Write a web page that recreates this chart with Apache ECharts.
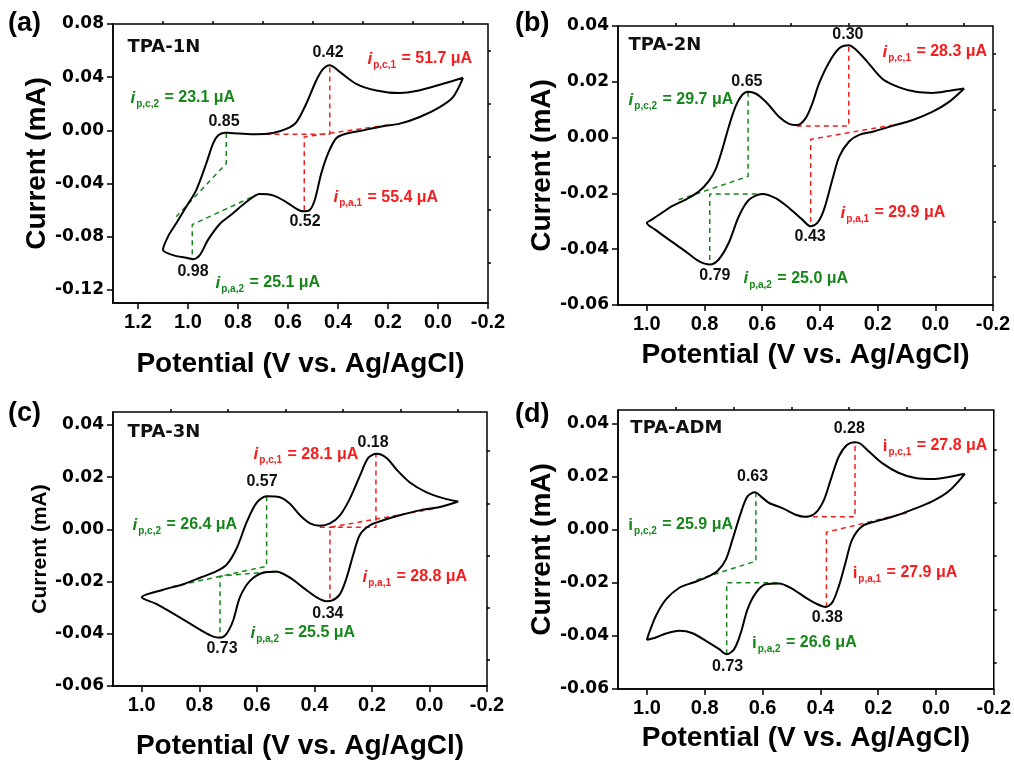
<!DOCTYPE html>
<html>
<head>
<meta charset="utf-8">
<script src="https://cdn.jsdelivr.net/npm/echarts@6/dist/echarts.min.js"></script>
<style>
  html, body { margin: 0; background: #fff; }
  #main { width: 1014px; height: 761px; }
</style>
</head>
<body>
<div id="main"></div>
<script>
// CV loops: [potential V, current mA]
const cv1N = [
  [-0.10, 0.0395], [-0.02, 0.035], [0.087, 0.0295], [0.153, 0.028], [0.247, 0.030],
  [0.327, 0.035], [0.393, 0.044], [0.433, 0.049], [0.46, 0.046], [0.487, 0.0375],
  [0.527, 0.020], [0.567, 0.006], [0.607, 0.001], [0.66, -0.002], [0.727, -0.003],
  [0.793, -0.0025], [0.833, -0.002], [0.853, -0.0018], [0.88, -0.004], [0.90, -0.010],
  [0.927, -0.025], [0.967, -0.045], [1.007, -0.0575], [1.047, -0.070], [1.08, -0.080],
  [1.10, -0.090], [1.06, -0.094], [1.007, -0.096], [0.98, -0.097], [0.953, -0.094],
  [0.92, -0.0825], [0.873, -0.0705], [0.82, -0.0625], [0.767, -0.054], [0.713, -0.048],
  [0.66, -0.049], [0.607, -0.054], [0.567, -0.059], [0.54, -0.061], [0.513, -0.060],
  [0.493, -0.0525], [0.467, -0.0325], [0.44, -0.0175], [0.407, -0.006], [0.367, -0.0025],
  [0.313, -0.0005], [0.22, 0.003], [0.153, 0.005], [0.073, 0.010], [-0.007, 0.0175],
  [-0.06, 0.025], [-0.10, 0.0395]
];
const cv2N = [
  [-0.10, 0.0176], [-0.049, 0.0168], [0.009, 0.016], [0.067, 0.0164], [0.125, 0.018],
  [0.183, 0.021], [0.24, 0.0277], [0.275, 0.0315], [0.30, 0.0331], [0.333, 0.032],
  [0.368, 0.027], [0.403, 0.0194], [0.426, 0.0123], [0.45, 0.0069], [0.478, 0.0045],
  [0.507, 0.0049], [0.542, 0.0075], [0.577, 0.0117], [0.60, 0.014], [0.623, 0.0158],
  [0.649, 0.0164], [0.67, 0.0152], [0.693, 0.011], [0.716, 0.0039], [0.739, -0.0044],
  [0.762, -0.0115], [0.786, -0.0157], [0.82, -0.0193], [0.867, -0.0223], [0.913, -0.0246],
  [0.948, -0.027], [0.983, -0.0294], [1.0, -0.0306], [0.971, -0.033], [0.925, -0.0365],
  [0.867, -0.0407], [0.82, -0.0443], [0.782, -0.0455], [0.751, -0.0437], [0.716, -0.0377],
  [0.681, -0.0282], [0.646, -0.0223], [0.60, -0.0202], [0.554, -0.0217], [0.507, -0.0252],
  [0.461, -0.0294], [0.432, -0.0318], [0.409, -0.0306], [0.386, -0.0258], [0.357, -0.0151],
  [0.333, -0.0068], [0.299, -0.0014], [0.264, 0.001], [0.217, 0.0021], [0.148, 0.0042],
  [0.078, 0.0063], [0.009, 0.0093], [-0.049, 0.0129], [-0.10, 0.0176]
];
const cv3N = [
  [-0.10, 0.0107], [-0.047, 0.012], [0.010, 0.0142], [0.068, 0.018], [0.115, 0.023],
  [0.149, 0.0274], [0.184, 0.029], [0.213, 0.0274], [0.242, 0.0205], [0.277, 0.0117],
  [0.311, 0.0054], [0.346, 0.0023], [0.381, 0.0014], [0.415, 0.0023], [0.45, 0.0054],
  [0.485, 0.0098], [0.52, 0.0123], [0.566, 0.0127], [0.601, 0.0102], [0.635, 0.0029],
  [0.67, -0.0072], [0.705, -0.0135], [0.74, -0.016], [0.797, -0.0185], [0.855, -0.021],
  [0.925, -0.0231], [1.0, -0.026], [0.948, -0.0286], [0.89, -0.0323], [0.832, -0.0361],
  [0.786, -0.0392], [0.751, -0.0411], [0.728, -0.0415], [0.705, -0.0399], [0.682, -0.0348],
  [0.659, -0.026], [0.624, -0.0197], [0.578, -0.0166], [0.531, -0.0162], [0.485, -0.0185],
  [0.439, -0.0223], [0.392, -0.026], [0.358, -0.0275], [0.34, -0.0273], [0.311, -0.0248],
  [0.288, -0.0185], [0.265, -0.0097], [0.242, -0.0021], [0.207, 0.0016], [0.161, 0.0035],
  [0.103, 0.0054], [0.034, 0.0073], [-0.036, 0.0086], [-0.10, 0.0107]
];
const cvADM = [
  [-0.10, 0.021], [-0.044, 0.0198], [0.013, 0.019], [0.071, 0.0194], [0.128, 0.0213],
  [0.186, 0.025], [0.232, 0.0294], [0.261, 0.0323], [0.28, 0.0329], [0.307, 0.0319],
  [0.336, 0.0275], [0.364, 0.0188], [0.387, 0.0113], [0.416, 0.0063], [0.451, 0.0048],
  [0.485, 0.0056], [0.531, 0.0081], [0.577, 0.010], [0.606, 0.0125], [0.626, 0.014],
  [0.652, 0.0125], [0.675, 0.0063], [0.704, -0.0038], [0.727, -0.0113], [0.756, -0.0156],
  [0.796, -0.0181], [0.842, -0.020], [0.888, -0.0219], [0.934, -0.0263], [0.969, -0.0325],
  [0.992, -0.0388], [1.0, -0.0415], [0.969, -0.0406], [0.934, -0.0391], [0.888, -0.0381],
  [0.842, -0.039], [0.796, -0.0419], [0.75, -0.045], [0.724, -0.0469], [0.698, -0.045],
  [0.675, -0.0388], [0.652, -0.030], [0.623, -0.0238], [0.589, -0.0206], [0.543, -0.0203],
  [0.497, -0.0223], [0.451, -0.0256], [0.41, -0.0281], [0.382, -0.0291], [0.359, -0.0275],
  [0.336, -0.0213], [0.313, -0.0125], [0.29, -0.0038], [0.255, 0.0013], [0.209, 0.0031],
  [0.151, 0.0048], [0.082, 0.0075], [0.013, 0.0106], [-0.044, 0.0144], [-0.10, 0.021]
];

// baseline / peak-height constructions (dashed)
const red1N = [[[0.69, -0.003], [0.433, -0.003], [0.433, 0.049]], [[0.20, 0.004], [0.535, -0.005], [0.535, -0.061]]];
const green1N = [[[0.847, -0.002], [0.847, -0.025], [1.047, -0.065]], [[0.713, -0.0475], [0.983, -0.071], [0.983, -0.097]]];
const red2N = [[[0.48, 0.0042], [0.30, 0.0042], [0.30, 0.0331]], [[0.113, 0.0051], [0.432, -0.0006], [0.432, -0.0318]]];
const green2N = [[[0.649, 0.0164], [0.649, -0.0139], [0.89, -0.0223]], [[0.588, -0.0202], [0.782, -0.0202], [0.782, -0.0455]]];
const red3N = [[[0.381, 0.0008], [0.186, 0.0008], [0.186, 0.029]], [[-0.013, 0.0079], [0.346, 0.0008], [0.346, -0.0275]]];
const green3N = [[[0.566, 0.0127], [0.566, -0.0141], [0.90, -0.0221]], [[0.531, -0.016], [0.728, -0.0179], [0.728, -0.0415]]];
const redADM = [[[0.457, 0.0048], [0.28, 0.0048], [0.28, 0.0329]], [[0.10, 0.0063], [0.379, -0.001], [0.379, -0.0291]]];
const greenADM = [[[0.623, 0.014], [0.623, -0.0119], [0.842, -0.0194]], [[0.549, -0.020], [0.724, -0.020], [0.724, -0.0469]]];

// peak potentials: [x, y, label]
const peaks1N = [[0.44, 0.0582, '0.42'], [0.856, 0.0062, '0.85'], [0.532, -0.069, '0.52'], [0.98, -0.1067, '0.98']];
const peaks2N = [[0.303, 0.0368, '0.30'], [0.653, 0.0199, '0.65'], [0.434, -0.0356, '0.43'], [0.764, -0.0496, '0.79']];
const peaks3N = [[0.196, 0.0333, '0.18'], [0.582, 0.0183, '0.57'], [0.353, -0.0321, '0.34'], [0.721, -0.0457, '0.73']];
const peaksADM = [[0.30, 0.0379, '0.28'], [0.6345, 0.0198, '0.63'], [0.376, -0.0333, '0.38'], [0.7207, -0.0517, '0.73']];

// peak currents: [x, y, subscript, µA, colour]
const notes1N = [[0.284, 0.0536, 'p,c,1', '51.7', 'r'], [1.232, 0.0243, 'p,c,2', '23.1', 'g'], [0.42, -0.0503, 'p,a,1', '55.4', 'r'], [0.892, -0.115, 'p,a,2', '25.1', 'g']];
const notes2N = [[0.185, 0.0307, 'p,c,1', '28.3', 'r'], [1.065, 0.0135, 'p,c,2', '29.7', 'g'], [0.330, -0.027, 'p,a,1', '29.9', 'r'], [0.667, -0.0506, 'p,a,2', '25.0', 'g']];
const notes3N = [[0.613, 0.0288, 'p,c,1', '28.1', 'r'], [1.034, 0.0017, 'p,c,2', '26.4', 'g'], [0.2345, -0.0182, 'p,a,1', '28.8', 'r'], [0.624, -0.0397, 'p,a,2', '25.5', 'g']];
const notesADM = [[0.186, 0.0315, 'p,c,1', '27.8', 'r'], [1.066, 0.0017, 'p,c,2', '25.9', 'g'], [0.29, -0.0163, 'p,a,1', '27.9', 'r'], [0.638, -0.0427, 'p,a,2', '26.6', 'g']];

// tick values
const xTicks1N = [1.2, 1.0, 0.8, 0.6, 0.4, 0.2, 0.0, -0.2];
const xMinor1N = [1.1, 0.9, 0.7, 0.5, 0.3, 0.1, -0.1];
const xTicks = [1.0, 0.8, 0.6, 0.4, 0.2, 0.0, -0.2];
const xMinor = [0.9, 0.7, 0.5, 0.3, 0.1, -0.1];
const yTicks1N = [-0.12, -0.08, -0.04, 0, 0.04, 0.08];
const yMinor1N = [-0.10, -0.06, -0.02, 0.02, 0.06];
const yTicks = [-0.06, -0.04, -0.02, 0, 0.02, 0.04];
const yMinor = [-0.05, -0.03, -0.01, 0.01, 0.03];

const FONT = '"Liberation Sans", Arial, sans-serif';
const WIDE = '"DejaVu Sans", Verdana, sans-serif';
const RED = '#f41e1e';
const GREEN = '#16861a';

const panels = [
  { tag: '(a)', title: 'TPA-1N', titleAt: [1.244, 0.0627], curve: cv1N, red: red1N, green: green1N, peaks: peaks1N, notes: notes1N,
    box: { left: 113, top: 24, width: 375, height: 279 }, x: [-0.2, 1.3], y: [-0.13, 0.08],
    xt: xTicks1N, xm: xMinor1N, yt: yTicks1N, ym: yMinor1N, italic: true, yNameSize: 28, xGap: 47, tagAt: [8, 10] },
  { tag: '(b)', title: 'TPA-2N', titleAt: [1.065, 0.0332], curve: cv2N, red: red2N, green: green2N, peaks: peaks2N, notes: notes2N,
    box: { left: 618, top: 26, width: 375, height: 279 }, x: [-0.2, 1.1], y: [-0.06, 0.04],
    xt: xTicks, xm: xMinor, yt: yTicks, ym: yMinor, italic: true, yNameSize: 28, xGap: 36, tagAt: [515, 10] },
  { tag: '(c)', title: 'TPA-3N', titleAt: [1.051, 0.0371], curve: cv3N, red: red3N, green: green3N, peaks: peaks3N, notes: notes3N,
    box: { left: 113, top: 412, width: 374, height: 279 }, x: [-0.2, 1.1], y: [-0.06, 0.045],
    xt: xTicks, xm: xMinor, yt: yTicks, ym: yMinor, italic: true, yNameSize: 21, xGap: 46, tagAt: [8, 400] },
  { tag: '(d)', title: 'TPA-ADM', titleAt: [1.059, 0.0382], curve: cvADM, red: redADM, green: greenADM, peaks: peaksADM, notes: notesADM,
    box: { left: 618, top: 410, width: 377, height: 279 }, x: [-0.2, 1.1], y: [-0.06, 0.045],
    xt: xTicks, xm: xMinor, yt: yTicks, ym: yMinor, italic: false, yNameSize: 28, xGap: 35, tagAt: [515, 401] }
];

const black = { color: '#000', width: 1.5 };
const dot = { color: 'rgba(0,0,0,0)', opacity: 1 };

const option = {
  animation: false,
  backgroundColor: '#fff',
  grid: [], xAxis: [], yAxis: [], series: [], graphic: []
};

panels.forEach((p, k) => {
  option.grid.push(Object.assign({ show: true, borderColor: '#000', borderWidth: 1.5, backgroundColor: 'transparent' }, p.box));

  // main axes (labels + major ticks) and twin axes for the minor ticks
  option.xAxis.push({
    gridIndex: k, type: 'value', min: p.x[0], max: p.x[1], inverse: true,
    splitLine: { show: false },
    axisLine: { show: true, onZero: false, lineStyle: black },
    axisTick: { show: true, inside: false, length: 6, customValues: p.xt, lineStyle: black },
    axisLabel: { customValues: p.xt, margin: 9, formatter: v => v.toFixed(1), fontSize: 20, fontWeight: 'bold', color: '#000', fontFamily: FONT },
    name: 'Potential (V vs. Ag/AgCl)', nameLocation: 'middle', nameGap: p.xGap,
    nameTextStyle: { fontSize: 28, fontWeight: 'bold', color: '#000', fontFamily: FONT }
  });
  option.xAxis.push({
    gridIndex: k, type: 'value', min: p.x[0], max: p.x[1], inverse: true,
    splitLine: { show: false }, axisLine: { show: false, onZero: false },
    axisTick: { show: true, length: 3, customValues: p.xm, lineStyle: black },
    axisLabel: { show: false }
  });
  option.yAxis.push({
    gridIndex: k, type: 'value', min: p.y[0], max: p.y[1],
    splitLine: { show: false },
    axisLine: { show: true, onZero: false, lineStyle: black },
    axisTick: { show: true, inside: false, length: 6, customValues: p.yt, lineStyle: black },
    axisLabel: { customValues: p.yt, margin: 9, formatter: v => v.toFixed(2), fontSize: 17, fontWeight: 'bold', color: '#000', fontFamily: WIDE },
    name: 'Current (mA)', nameLocation: 'middle', nameGap: 62,
    nameTextStyle: { fontSize: p.yNameSize, fontWeight: 'bold', color: '#000', fontFamily: FONT }
  });
  option.yAxis.push({
    gridIndex: k, type: 'value', min: p.y[0], max: p.y[1],
    splitLine: { show: false }, axisLine: { show: false, onZero: false },
    axisTick: { show: true, length: 3, customValues: p.ym, lineStyle: black },
    axisLabel: { show: false }
  });

  const ax = { xAxisIndex: 2 * k, yAxisIndex: 2 * k, silent: true };

  option.series.push(Object.assign({
    type: 'line', data: p.curve, showSymbol: false, smooth: 0.3,
    lineStyle: { color: '#000', width: 2 }, z: 5
  }, ax));

  [[p.red, RED], [p.green, GREEN]].forEach(([sets, c]) => {
    sets.forEach(d => option.series.push(Object.assign({
      type: 'line', data: d, showSymbol: false,
      lineStyle: { color: c, width: 1.5, type: [5, 4] }, z: 4
    }, ax)));
  });

  option.series.push(Object.assign({
    type: 'scatter', symbolSize: 1, itemStyle: dot, z: 6,
    data: p.peaks.map(q => ({ value: [q[0], q[1]], name: q[2] })),
    label: { show: true, position: 'inside', formatter: '{b}', fontSize: 16, fontWeight: 'bold', color: '#111', fontFamily: FONT }
  }, ax));

  const rich = c => ({
    i: { fontSize: 17, fontWeight: 'bold', fontStyle: p.italic ? 'italic' : 'normal', color: c, fontFamily: FONT },
    s: { fontSize: 10, fontWeight: 'bold', color: c, fontFamily: FONT, padding: [12, 1, 0, 1] },
    v: { fontSize: 16, fontWeight: 'bold', color: c, fontFamily: FONT }
  });
  option.series.push(Object.assign({
    type: 'scatter', symbolSize: 1, itemStyle: dot, z: 6,
    data: p.notes.map(n => ({
      value: [n[0], n[1]], sub: n[2], amp: n[3],
      label: { rich: rich(n[4] === 'r' ? RED : GREEN) }
    })),
    label: {
      show: true, position: 'right', distance: 0,
      formatter: o => '{i|i}{s|' + o.data.sub + '}{v| = ' + o.data.amp + ' μA}'
    }
  }, ax));

  option.series.push(Object.assign({
    type: 'scatter', symbolSize: 1, itemStyle: dot, z: 6,
    data: [{ value: p.titleAt, name: p.title }],
    label: { show: true, position: 'right', distance: 0, formatter: '{b}', fontSize: 18, fontWeight: 'bold', color: '#111', fontFamily: WIDE }
  }, ax));

  option.graphic.push({
    type: 'text', left: p.tagAt[0], top: p.tagAt[1],
    style: { text: p.tag, font: 'bold 27px ' + FONT, fill: '#000' }
  });
});

const chart = echarts.init(document.getElementById('main'));
chart.setOption(option);
</script>
</body>
</html>
